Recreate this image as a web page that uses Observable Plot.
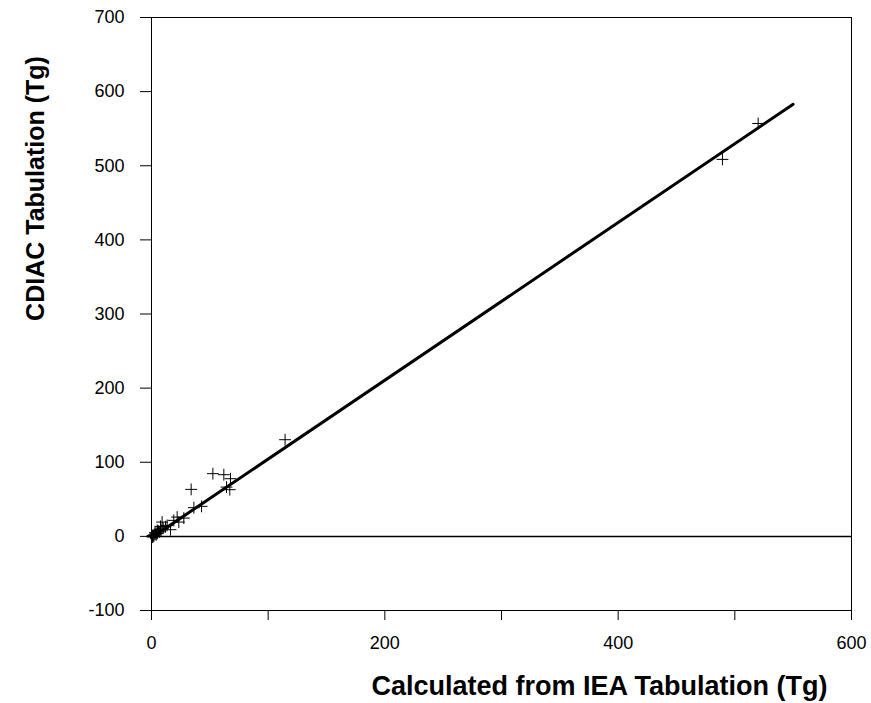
<!DOCTYPE html>
<html>
<head>
<meta charset="utf-8">
<script src="https://cdn.jsdelivr.net/npm/d3@7"></script>
<script src="https://cdn.jsdelivr.net/npm/@observablehq/plot@0.6"></script>
<style>
  body { margin: 0; background: #fff; }
  svg { font-family: "Liberation Sans", Arial, sans-serif; }
</style>
</head>
<body>
<div id="chart"></div>
<script>
// Calculated from IEA tabulation (Tg)
const ieaValues = [520, 489.4, 114.5, 52.6, 62, 67.7, 64.3, 67.1, 34, 36.3, 42.9, 22, 27.7, 23.4, 19.1, 16.3, 9.1, 7.7, 13.4,
  1, 2, 3, 4, 5, 6, 3, 2, 1, 0.5, 5, 7, 8, 4, 10, 12];
// CDIAC tabulation (Tg)
const cdiacValues = [557, 508.6, 130.4, 84.6, 83.2, 77.8, 66.5, 63, 63.4, 38.7, 40.5, 26, 24.7, 19.3, 21.6, 9, 19.3, 13.5, 14.8,
  1, 2, 3, 4, 4, 7, 5, 0, -1, 0.3, 8, 6, 9, 2, 11, 13];
// Fitted line end points
const fitX = [0, 550];
const fitY = [-2, 583];
const xTicks = [0, 100, 200, 300, 400, 500, 600];
const xTickLabels = ["0", "", "200", "", "400", "", "600"];
const yTicks = [-100, 0, 100, 200, 300, 400, 500, 600, 700];

const points = ieaValues.map((x, i) => ({x, y: cdiacValues[i]}));
const fit = fitX.map((x, i) => ({x, y: fitY[i]}));

const chart = Plot.plot({
  width: 871,
  height: 703,
  marginLeft: 151,
  marginRight: 20,
  marginTop: 17,
  marginBottom: 93,
  style: {fontSize: "18px", fontFamily: "'Liberation Sans', Arial, sans-serif", color: "#000", background: "#fff"},
  x: {domain: [0, 600], label: null},
  y: {domain: [-100, 700], label: null},
  marks: [
    Plot.frame({stroke: "#000", strokeWidth: 1}),
    Plot.ruleY([0], {stroke: "#000", strokeWidth: 1.5}),
    Plot.axisX({ticks: xTicks, tickFormat: (d) => xTickLabels[xTicks.indexOf(d)], tickSize: 10, tickPadding: 16, stroke: "#000", strokeOpacity: 1, fontSize: 18, label: null}),
    Plot.axisY({ticks: yTicks, tickFormat: (d) => String(d), tickSize: 11, tickPadding: 16, stroke: "#000", strokeOpacity: 1, fontSize: 18, label: null}),
    Plot.line(fit, {x: "x", y: "y", stroke: "#000", strokeWidth: 3}),
    Plot.dot(points, {x: "x", y: "y", symbol: "plus", r: 3.9, stroke: "#000", strokeWidth: 1}),
    Plot.text(["CDIAC Tabulation (Tg)"], {frameAnchor: "top-left", dx: -125, dy: 171, rotate: -90, fontSize: 25, fontWeight: "bold", fill: "#000", textAnchor: "middle"}),
    Plot.text(["Calculated from IEA Tabulation (Tg)"], {frameAnchor: "bottom-left", dx: 448, dy: 84, fontSize: 27, fontWeight: "bold", fill: "#000", textAnchor: "middle"})
  ]
});
document.getElementById("chart").appendChild(chart);
</script>
</body>
</html>
